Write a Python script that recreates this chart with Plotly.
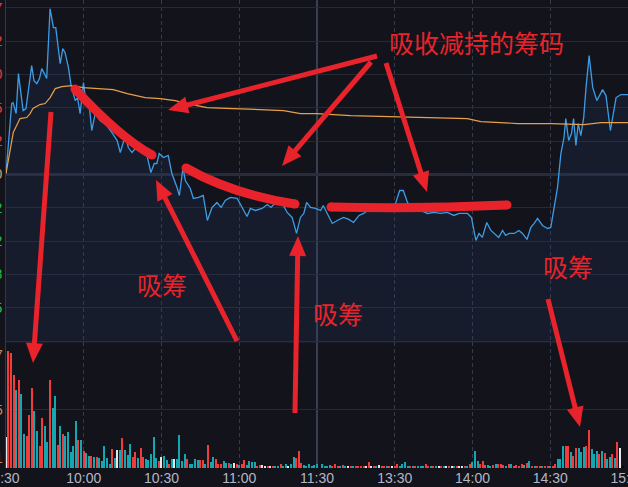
import math
import plotly.graph_objects as go

# ---------------- data (minutes from 9:30, lunch break removed) ----------------
price_t = [0, 2.2, 2.7, 3.9, 4.8, 5.7, 6.6, 7.7, 9.9, 10.8,
           11.9, 12.9, 13.8, 14.8, 15.7, 17.0, 18.3, 19.2, 20.0, 20.9,
           21.9, 22.8, 24.1, 25.0, 26.7, 27.6, 28.6, 29.9, 30.9, 32.2,
           33.1, 34.4, 36.3, 38.9, 40.9, 42.9, 44.1, 45.1, 46.0, 47.2,
           48.6, 49.9, 51.8, 54.4, 55.9, 57.2, 58.2, 59.1, 60.8, 62.6,
           64.0, 66.0, 66.9, 68.3, 69.2, 71.1, 72.3, 74.3, 76.1, 77.7,
           79.5, 81.4, 83.0, 84.6, 86.6, 89.2, 91.1, 93.0, 94.3, 96.2,
           98.8, 100.8, 102.3, 104.0, 106.6, 108.5, 110.4, 112.1, 113.6, 114.9,
           116.0, 117.5, 119.4, 121.4,
           122.4, 123.9, 125.9, 127.8, 130.2, 132.3, 134.1, 136.2, 138.0, 140.7,
           143.3, 145.7, 148.4, 150.3, 151.9, 153.3, 154.9, 157.4, 160.0, 162.6,
           165.1, 167.7, 170.3, 172.8, 174.8, 178.1, 179.6, 181.3, 182.5, 183.8,
           185.5, 187.1, 188.3, 190.1, 191.6, 192.8, 194.1, 196.1, 197.9, 199.3,
           201.0, 202.5, 203.8, 205.1, 207.0, 209.0, 210.2, 211.5, 212.8, 214.1,
           215.3, 216.0, 217.1, 218.2, 219.0, 219.9, 220.8, 221.8, 222.9, 223.8,
           225.0, 226.4, 228.0, 230.2, 231.5, 233.2, 234.1, 235.4, 237.3, 240]
price_pct = [0.03, 2.13, 2.16, 1.83, 3.03, 2.52, 1.92, 1.98, 3.27, 2.82,
             2.73, 2.88, 3.18, 3.03, 2.88, 4.98, 4.41, 4.41, 3.93, 3.33,
             3.78, 3.66, 3.21, 2.73, 2.22, 2.31, 1.83, 2.76, 2.13, 2.01,
             1.32, 1.83, 1.62, 1.47, 1.26, 1.02, 0.66, 0.93, 1.17, 0.81,
             0.66, 0.78, 0.78, 0.57, 0.06, 0.33, 0.33, 0.63, 0.51, 0.57,
             0.03, -0.39, -0.63, 0.21, -0.18, -0.42, -0.72, -0.69, -0.63, -1.38,
             -0.99, -0.84, -0.99, -0.78, -0.69, -0.72, -0.99, -1.26, -1.02, -1.08,
             -1.02, -0.90, -0.99, -0.84, -0.87, -1.14, -1.29, -1.77, -1.29, -1.17,
             -0.84, -0.99, -1.02, -1.08,
             -0.93, -1.17, -1.47, -1.38, -1.29, -1.35, -1.44, -1.23, -1.17, -1.02,
             -1.08, -1.02, -0.99, -0.87, -0.48, -0.48, -0.84, -1.02, -1.08, -1.17,
             -1.14, -1.17, -1.14, -1.23, -1.17, -1.17, -1.29, -1.98, -1.77, -1.89,
             -1.44, -1.68, -1.77, -1.89, -1.68, -1.83, -1.77, -1.77, -1.68, -1.77,
             -1.95, -1.59, -1.47, -1.32, -1.53, -1.62, -1.59, -0.99, -0.39, 0.63,
             1.11, 1.68, 1.02, 1.23, 1.68, 0.87, 1.53, 1.17, 1.71, 2.61,
             3.57, 2.61, 2.22, 2.55, 2.37, 1.32, 1.77, 2.31, 2.40, 2.40]

avg_t = [0, 2.2, 2.8, 5.4, 8.0, 9.3, 10.4, 13.1, 15.1, 17.0, 19.0, 21.6, 25.4,
         29.8, 36.3, 41.4, 46.8, 53.7, 59.5, 65.3, 69.8, 77.6, 87.7, 107.1,
         113.6, 119.8, 133.0, 152.3, 178.0, 183.2, 197.5, 210.2, 223.0, 229.6, 240]
avg_pct = [0.03, 0.93, 1.26, 1.68, 1.71, 1.83, 1.98, 2.10, 2.13, 2.31, 2.58, 2.64, 2.67,
           2.61, 2.58, 2.55, 2.43, 2.31, 2.28, 2.22, 2.13, 2.01, 1.98, 1.92,
           1.83, 1.83, 1.77, 1.74, 1.68, 1.59, 1.53, 1.53, 1.50, 1.56, 1.56]

vol_am = [93, 350, 345, 280, 233, 265, 223, 101, 95, 158,
          241, 170, 111, 65, 151, 127, 77, 265, 181, 215,
          68, 125, 101, 97, 107, 49, 67, 140, 83, 83,
          51, 45, 37, 35, 33, 33, 29, 21, 67, 29,
          13, 57, 29, 53, 55, 91, 53, 40, 73, 33,
          47, 29, 59, 33, 27, 25, 41, 92, 29, 21,
          33, 37, 25, 13, 27, 27, 27, 100, 21, 41,
          27, 11, 13, 27, 25, 25, 25, 13, 68, 17,
          33, 27, 13, 11, 21, 15, 15, 11, 15, 11,
          9, 13, 25, 9, 21, 19, 17, 7, 9, 9,
          7, 5, 5, 5, 5, 7, 11, 7, 11, 5,
          13, 33, 31, 51, 15, 9, 7, 11, 7, 9, 13]
dir_am = ("wrrrgrgg" "rrrggrrggrggrgrgggggrgrggrgrgggggrgwgrg"
          "ggrrgrrggggg" "rwggrgwgggg" "rggg" "grrgrgg" "rrrggr" "gwrgrrggggr" "rwwrwrgg" "rggwggrrrgggg" "g")
vol_pm = [13, 7, 7, 9, 7, 13, 5, 7, 9, 7,
          5, 7, 7, 5, 5, 7, 5, 7, 17, 7,
          5, 7, 9, 5, 7, 5, 5, 7, 7, 13,
          7, 11, 17, 5, 7, 7, 5, 7, 5, 7,
          13, 7, 5, 7, 5, 7, 7, 5, 7, 5,
          5, 7, 5, 7, 7, 7, 5, 13, 19, 51,
          21, 11, 21, 9, 9, 7, 9, 11, 11, 13,
          9, 7, 13, 11, 7, 9, 7, 11, 9, 15,
          21, 7, 7, 7, 7, 5, 7, 5, 7, 7,
          13, 27, 27, 67, 65, 65, 47, 37, 61, 59,
          47, 63, 67, 113, 57, 43, 51, 41, 51, 45,
          27, 33, 41, 29, 77, 59, 5]
dir_pm = ("gggggrrrgr" "gwrgrrrrwr" "wrgwrrgrwr" "rgggg" "rgrgggrrgr" "gwrgwrwgrw" "wrgrgg" "grrrggrgrr" "rgrgrrrrgr" "grgrrgrrgr" "rggg" "rrgrrgggr" "rgggrgrggr" "grw")

time_ticks = [0, 30, 60, 90, 120, 150, 180, 210, 240]
time_labels = ["9:30", "10:00", "10:30", "11:00", "11:30", "13:30", "14:00", "14:30", "15:00"]

price_grid = [5, 4, 3, 2, 1, 0, -1, -2, -3, -4, -5]
price_labels = ["7", "2", "0", "5", "2", "0", "2", "2", "8", "5", ""]

vol_label_vals = [338, 173, 29]
vol_label_text = ["7", "5", "1"]

# ---------------- style ----------------
BG = "#12131b"
RED = "#e9232b"
UP, FLAT, DOWN = "#f03c3c", "#c9a36a", "#27c04a"
BAR_COL = {"r": "#f23b3b", "g": "#14a7b1", "w": "#e6e6e6"}

W, H = 628, 487
ML, MR, MT, MB = 6, 0, 0, 19
PW, PH = W - ML - MR, H - MT - MB


def PX(x):
    return (x - ML) / PW


def PY(y):
    return (H - MB - y) / PH


def lab_color(v):
    return UP if v > 0 else (FLAT if v == 0 else DOWN)


fig = go.Figure()

# price panel
fig.add_trace(go.Scatter(x=[0, 240], y=[-5.05, -5.05], mode="lines",
                         line=dict(width=0, color=BG), hoverinfo="skip", showlegend=False))
fig.add_trace(go.Scatter(x=price_t, y=price_pct, mode="lines",
                         line=dict(color="#3c9ce6", width=1.3),
                         fill="tonexty", fillcolor="rgba(38,62,98,0.22)", showlegend=False))
fig.add_trace(go.Scatter(x=avg_t, y=avg_pct, mode="lines",
                         line=dict(color="#e7a049", width=1.2), showlegend=False))

# volume panel
t_am = list(range(len(vol_am)))
t_pm = list(range(122, 122 + len(vol_pm)))
fig.add_trace(go.Bar(x=t_am + t_pm, y=vol_am + vol_pm,
                     marker=dict(color=[BAR_COL[c] for c in (dir_am + dir_pm)], line=dict(width=0)),
                     width=0.5, xaxis="x2", yaxis="y2", showlegend=False))

vdom_top = PY(342)
fig.update_layout(
    width=W, height=H, margin=dict(l=ML, r=MR, t=MT, b=MB, autoexpand=False),
    paper_bgcolor=BG, plot_bgcolor=BG, bargap=0,
    font=dict(family="Liberation Sans, Arial, sans-serif", size=14, color="#b3b7c4"),
    xaxis=dict(range=[0, 240], domain=[0, 1], anchor="y", tickvals=time_ticks,
               showticklabels=False, showgrid=True, gridcolor="#363a4d",
               griddash="4px,3px", zeroline=False, fixedrange=True),
    yaxis=dict(domain=[vdom_top, 1], range=[-5.03, 5.24], tickvals=price_grid,
               ticktext=[f'<span style="color:{lab_color(v)}">{s}</span>' for v, s in zip(price_grid, price_labels)],
               gridcolor="#262936", gridwidth=1, zeroline=True, zerolinecolor="#282c3b",
               zerolinewidth=3, showline=True, linecolor="#33374a", ticks="",
               automargin=False, ticklabeloverflow="allow", tickfont=dict(size=14)),
    xaxis2=dict(range=[0, 240], domain=[0, 1], anchor="y2", tickvals=time_ticks,
                ticktext=time_labels, showgrid=True, gridcolor="#363a4d",
                griddash="4px,3px", zeroline=False, ticks="", automargin=False,
                ticklabeloverflow="allow", tickfont=dict(size=14, color="#b3b7c4")),
    yaxis2=dict(domain=[0, vdom_top], range=[0, 378], tickvals=[176], showticklabels=False,
                gridcolor="#262936", zeroline=False, showline=True, linecolor="#33374a",
                automargin=False),
)

shapes = []
# solid lunch-break separator
shapes.append(dict(type="line", xref="x", yref="paper", x0=120, x1=120, y0=0, y1=1,
                   line=dict(color="#3b4055", width=2), layer="below"))
# top border of volume panel
shapes.append(dict(type="line", xref="paper", yref="paper", x0=0, x1=1, y0=vdom_top, y1=vdom_top,
                   line=dict(color="#262936", width=1), layer="below"))


def qpath(p0, c, p1):
    return "M{:.5f},{:.5f} Q{:.5f},{:.5f} {:.5f},{:.5f}".format(
        PX(p0[0]), PY(p0[1]), PX(c[0]), PY(c[1]), PX(p1[0]), PY(p1[1]))


def dot(x, y, r):
    return dict(type="circle", xref="paper", yref="paper", x0=PX(x - r), x1=PX(x + r),
                y0=PY(y + r), y1=PY(y - r), fillcolor=RED, line=dict(width=0))


def stroke(p0, c, p1, w=9):
    shapes.append(dict(type="path", xref="paper", yref="paper", path=qpath(p0, c, p1),
                       line=dict(color=RED, width=w)))
    shapes.append(dot(p0[0], p0[1], w / 2))
    shapes.append(dot(p1[0], p1[1], w / 2))


def arrow(x0, y0, x1, y1, hl=20, hw=17, w=5):
    dx, dy = x1 - x0, y1 - y0
    L = math.hypot(dx, dy)
    ux, uy = dx / L, dy / L
    bx, by = x1 - ux * (hl - 2), y1 - uy * (hl - 2)
    shapes.append(dict(type="line", xref="paper", yref="paper",
                       x0=PX(x0), y0=PY(y0), x1=PX(bx), y1=PY(by),
                       line=dict(color=RED, width=w)))
    nx, ny = -uy, ux
    cx, cy = x1 - ux * hl, y1 - uy * hl
    pts = [(x1, y1), (cx + nx * hw / 2, cy + ny * hw / 2), (cx - nx * hw / 2, cy - ny * hw / 2)]
    path = "M" + " L".join("{:.5f},{:.5f}".format(PX(a), PY(b)) for a, b in pts) + " Z"
    shapes.append(dict(type="path", xref="paper", yref="paper", path=path,
                       fillcolor=RED, line=dict(width=0)))


# thick strokes marking the decline / flat segments
stroke((75, 89), (120.5, 138), (152, 155))
stroke((186, 168), (231.5, 194), (295, 204))
stroke((331, 207), (420, 209), (507, 205))

# arrows
arrow(51, 112, 33, 363)
arrow(377, 56, 168, 110)
arrow(371, 62, 282, 166)
arrow(386, 63, 427, 192)
arrow(237, 341, 156, 180)
arrow(295, 413, 298, 236)
arrow(548, 299, 580, 427)

fig.update_layout(shapes=shapes)

ann = []
CJK = "Noto Sans CJK SC"
for txt, x, y in [("吸收减持的筹码", 476, 42), ("吸筹", 162, 284), ("吸筹", 338, 313), ("吸筹", 568, 266)]:
    ann.append(dict(text=txt, xref="paper", yref="paper", x=PX(x), y=PY(y),
                    xanchor="center", yanchor="middle", showarrow=False,
                    font=dict(family=CJK, size=25, color=RED)))
for v, s in zip(vol_label_vals, vol_label_text):
    ann.append(dict(text=s, xref="paper", yref="y2", x=0, y=v, xanchor="right", yanchor="middle",
                    xshift=-1, showarrow=False, font=dict(size=14, color="#c08a58")))
fig.update_layout(annotations=ann)

fig.write_html("out.html", config={"displayModeBar": False},
               post_script="document.body.style.margin='0';document.body.style.background='%s';" % BG)
